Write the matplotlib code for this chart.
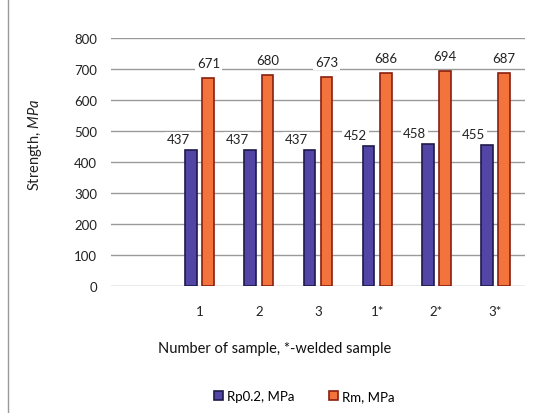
import numpy as np
import matplotlib
matplotlib.use("Agg")
import matplotlib.pyplot as plt
from matplotlib.lines import Line2D

plt.rcParams['font.family'] = ['Lato', 'DejaVu Sans']
plt.rcParams['mathtext.fontset'] = 'custom'
plt.rcParams['mathtext.it'] = 'Lato:italic'
plt.rcParams['mathtext.rm'] = 'Lato'

categories = ["", "1", "2", "3", "1*", "2*", "3*"]
rp02 = [np.nan, 437, 437, 437, 452, 458, 455]
rm = [np.nan, 671, 680, 673, 686, 694, 687]

fig = plt.figure(figsize=(5.39, 4.14), dpi=100)
fig.patch.set_facecolor("white")
ax = fig.add_axes([0.206, 0.307, 0.768, 0.599])

x = np.arange(len(categories))
w = 0.2
off = 0.145
ax.bar(x - off, rp02, w, color="#5345a6", edgecolor="#1e1a4a", linewidth=1.2,
       label="Rp0.2, MPa", zorder=3)
ax.bar(x + off, rm, w, color="#f2733c", edgecolor="#8a1f10", linewidth=1.2,
       label="Rm, MPa", zorder=3)

for i in range(1, len(categories)):
    ax.text(x[i] - off - 0.22, rp02[i] + 36, str(rp02[i]), ha="center", va="center",
            fontsize=9.5, color="#222222", zorder=4,
            bbox=dict(facecolor="white", edgecolor="none", pad=1.2))
    ax.text(x[i] + off, rm[i] + 48, str(rm[i]), ha="center", va="center",
            fontsize=9.5, color="#222222", zorder=4,
            bbox=dict(facecolor="white", edgecolor="none", pad=1.2))

ax.set_xlim(-0.5, len(categories) - 0.5)
ax.set_ylim(0, 800)
ax.set_yticks(range(0, 801, 100))
ax.set_xticks(x)
ax.set_xticklabels(categories)
ax.tick_params(length=0, labelsize=9.5, colors="#222222")
ax.tick_params(axis="x", pad=14)
ax.tick_params(axis="y", pad=10)
ax.grid(axis="y", color="#9a9a9a", linewidth=1, zorder=0)
for s in ax.spines.values():
    s.set_visible(False)

fig.text(0.065, 0.65, r"Strength, $\mathit{MPa}$", rotation=90, ha="center", va="center",
         fontsize=10.5, color="#222222")

fig.text(0.51, 0.158, "Number of sample, *-welded sample", ha="center", va="center",
         fontsize=10.5, color="#111111")

fig.legend(loc="center", bbox_to_anchor=(0.565, 0.04), ncol=2, frameon=False,
           fontsize=9.5, handlelength=0.7, handleheight=0.7, handletextpad=0.3,
           columnspacing=2.6)

fig.add_artist(Line2D([0.015, 0.015], [0.0, 1.0], color="#9a9a9a", linewidth=1,
                      transform=fig.transFigure))

fig.savefig("out.png", dpi=100)
